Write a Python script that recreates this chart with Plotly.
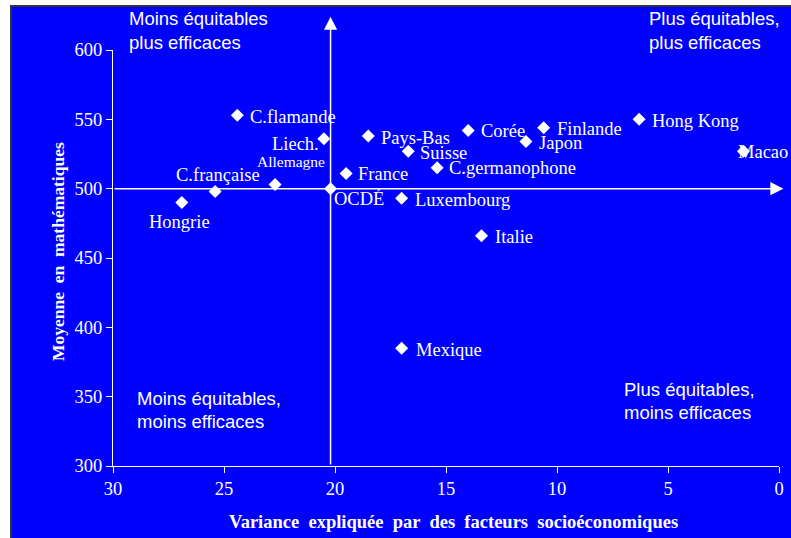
import plotly.graph_objects as go

# ---------------- data ----------------
countries = ["Hongrie", "C.française", "C.flamande", "Allemagne", "Liech.", "OCDÉ",
             "France", "Pays-Bas", "Suisse", "Luxembourg", "C.germanophone", "Corée",
             "Italie", "Japon", "Finlande", "Hong Kong", "Macao", "Mexique"]
variance = [26.9, 25.4, 24.4, 22.7, 20.5, 20.2, 19.5, 18.5, 16.7, 17.0, 15.4, 14.0,
            13.4, 11.4, 10.6, 6.3, 1.6, 17.0]
math_mean = [490, 498, 553, 503, 536, 500, 511, 538, 527, 493, 515, 542,
             466, 534, 544, 550, 527, 385]

x_ticks = [30, 25, 20, 15, 10, 5, 0]
y_ticks = [300, 350, 400, 450, 500, 550, 600]

oecd_variance = 20.2
oecd_mean = 500

x_title = "Variance expliquée par des facteurs socioéconomiques"
y_title = "Moyenne en mathématiques"
quadrant_lines = ["Moins équitables", "plus efficaces",
                  "Plus équitables,", "plus efficaces",
                  "Moins équitables,", "moins efficaces",
                  "Plus équitables,", "moins efficaces"]

# ---------------- styles ----------------
BLUE = "#0000FF"
WHITE = "#FFFFFF"
SERIF = "Liberation Serif, Times New Roman, serif"
SANS = "Liberation Sans, Arial, sans-serif"

L, R, T, B = 113, 12, 50, 72
W, H = 791, 538
PW, PH = W - L - R, H - T - B


def px_x(px):
    return (px - L) / PW


def px_y(py):
    return (H - B - py) / PH


def wide_spaces(s):
    return s.replace(" ", " &nbsp;")


# label placement (anchor, xshift, yshift, font size) per country
label_style = {
    "Hongrie": ("center", -2, -19, 18.5),
    "C.française": ("center", 3, 16, 18.5),
    "C.flamande": ("left", 11, -2, 18.5),
    "Allemagne": ("center", 16, 23, 15.5),
    "Liech.": ("right", -3, -5, 18.5),
    "OCDÉ": ("left", 1, -10, 18.5),
    "France": ("left", 10, -1, 18.5),
    "Pays-Bas": ("left", 11, -2, 18.5),
    "Suisse": ("left", 10, -2, 18.5),
    "Luxembourg": ("left", 11, -2, 18.5),
    "C.germanophone": ("left", 10, 0, 18.5),
    "Corée": ("left", 11, -1, 18.5),
    "Italie": ("left", 11, -1, 18.5),
    "Japon": ("left", 11, -1, 18.5),
    "Finlande": ("left", 11, -1, 18.5),
    "Hong Kong": ("left", 11, -2, 18.5),
    "Macao": ("left", -7, -1, 18.5),
    "Mexique": ("left", 12, -2, 18.5),
}

fig = go.Figure()

fig.add_trace(go.Scatter(
    x=variance, y=math_mean, mode="markers",
    marker=dict(symbol="diamond", size=10, color=WHITE, line=dict(width=0)),
    hoverinfo="text", text=countries, showlegend=False,
))

annotations = []

for name, xv, yv in zip(countries, variance, math_mean):
    anchor, xs, ys, fs = label_style[name]
    annotations.append(dict(
        x=xv, y=yv, xref="x", yref="y", text=name, showarrow=False,
        xanchor=anchor, yanchor="middle", xshift=xs, yshift=ys,
        font=dict(family=SERIF, size=fs, color=WHITE),
    ))

# arrows (vertical through OCDE mean variance, horizontal at OCDE mean score)
annotations.append(dict(
    x=oecd_variance, y=624, ax=oecd_variance, ay=y_ticks[0],
    xref="x", yref="y", axref="x", ayref="y", text="", showarrow=True,
    arrowhead=2, arrowsize=1.75, arrowwidth=1.5, arrowcolor=WHITE, standoff=0,
))
annotations.append(dict(
    x=-0.2, y=oecd_mean, ax=x_ticks[0], ay=oecd_mean,
    xref="x", yref="y", axref="x", ayref="y", text="", showarrow=True,
    arrowhead=2, arrowsize=1.75, arrowwidth=1.5, arrowcolor=WHITE, standoff=0,
))

# quadrant labels
quad_pos = [(129, 18), (129, 42), (649, 18), (649, 42),
            (137, 398), (137, 421), (624, 389), (624, 412)]
for txt, (qx, qy) in zip(quadrant_lines, quad_pos):
    annotations.append(dict(
        x=px_x(qx - 2), y=px_y(qy), xref="paper", yref="paper", text=txt,
        showarrow=False, xanchor="left", yanchor="middle",
        font=dict(family=SANS, size=18.5, color=WHITE),
    ))

# axis titles
annotations.append(dict(
    x=px_x(453), y=px_y(522), xref="paper", yref="paper",
    text="<b>" + wide_spaces(x_title) + "</b>", showarrow=False,
    xanchor="center", yanchor="middle",
    font=dict(family=SERIF, size=18.5, color=WHITE),
))
annotations.append(dict(
    x=px_x(57.5), y=px_y(251.5), xref="paper", yref="paper",
    text="<b>" + wide_spaces(y_title) + "</b>", showarrow=False,
    xanchor="center", yanchor="middle",
    textangle=-90, font=dict(family=SERIF, size=17.5, color=WHITE),
))

# blue frame with dark border on a white page
shapes = [dict(
    type="rect", xref="paper", yref="paper", layer="below",
    x0=px_x(11), x1=px_x(W + 10), y0=px_y(H + 10), y1=px_y(6),
    fillcolor=BLUE, line=dict(color="#333333", width=2),
)]

fig.update_layout(
    width=W, height=H,
    margin=dict(l=L, r=R, t=T, b=B, autoexpand=False),
    paper_bgcolor=WHITE, plot_bgcolor=BLUE,
    annotations=annotations, shapes=shapes,
    xaxis=dict(
        range=[30, 0], tickvals=x_ticks, ticktext=[str(v) for v in x_ticks],
        showgrid=False, zeroline=False, showline=True, linecolor=WHITE, linewidth=1,
        ticks="outside", ticklen=6, tickcolor=WHITE, tickwidth=1,
        tickfont=dict(family=SERIF, size=18.5, color=WHITE),
    ),
    yaxis=dict(
        range=[300, 600], tickvals=y_ticks, ticktext=[str(v) for v in y_ticks],
        showgrid=False, zeroline=False, showline=True, linecolor=WHITE, linewidth=1,
        ticks="outside", ticklen=6, tickcolor=WHITE, tickwidth=1,
        tickfont=dict(family=SERIF, size=18.5, color=WHITE),
    ),
)

fig.write_html("out.html", config={"displayModeBar": False},
               post_script="document.body.style.margin='0';")
